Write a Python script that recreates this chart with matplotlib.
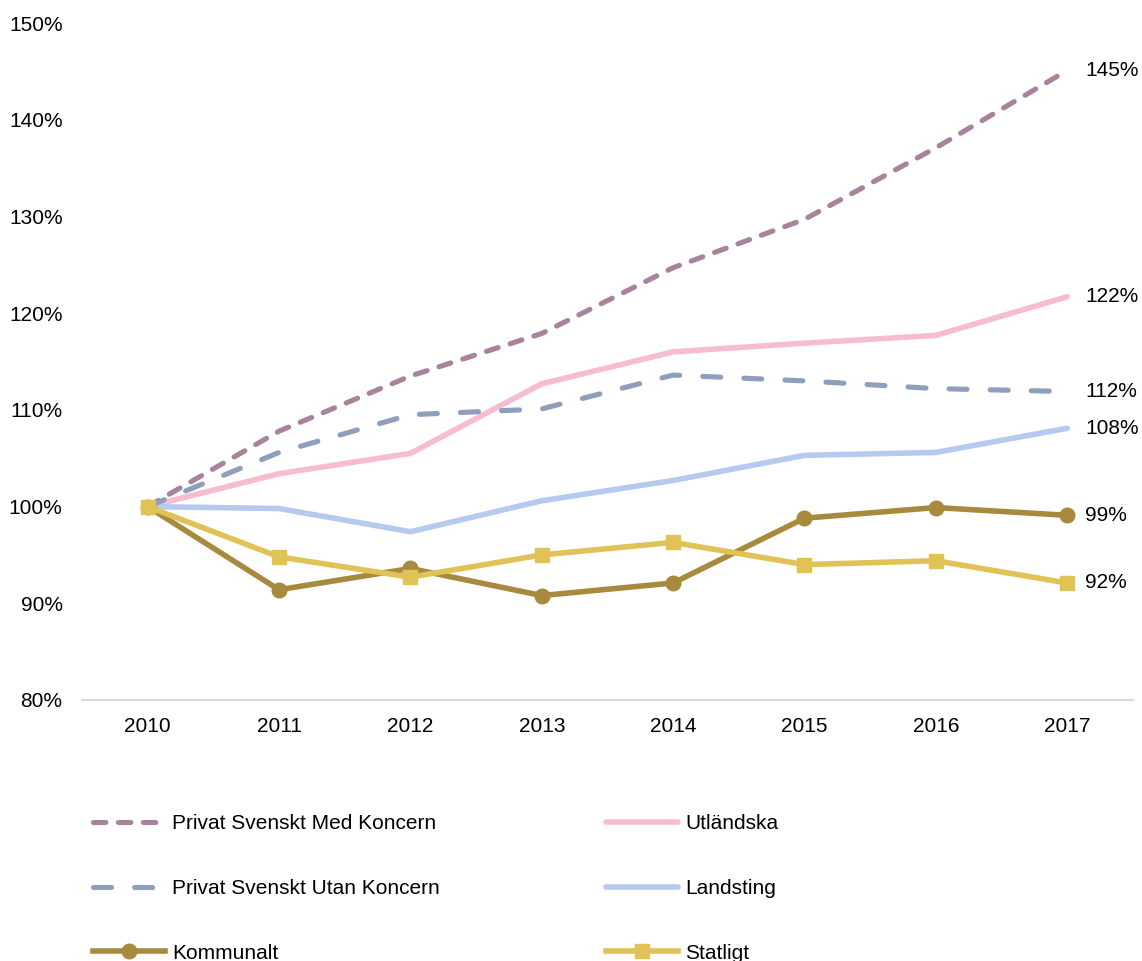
import matplotlib
matplotlib.use("Agg")
import matplotlib.pyplot as plt
from matplotlib.ticker import FuncFormatter

plt.rcParams["font.family"] = ["Liberation Sans", "DejaVu Sans"]

YEARS = ["2010", "2011", "2012", "2013", "2014", "2015", "2016", "2017"]

# index, 2010 = 100 %
MED_KONCERN  = [100, 107.8, 113.5, 117.9, 124.7, 129.7, 137.1, 145.1]
UTAN_KONCERN = [100, 105.6, 109.5, 110.1, 113.6, 113.0, 112.2, 111.9]
UTLANDSKA    = [100, 103.4, 105.5, 112.7, 116.0, 116.9, 117.7, 121.7]
LANDSTING    = [100, 99.8, 97.4, 100.6, 102.7, 105.3, 105.6, 108.1]
KOMMUNALT    = [100, 91.4, 93.6, 90.8, 92.1, 98.8, 99.9, 99.1]
STATLIGT     = [100, 94.8, 92.7, 95.0, 96.3, 94.0, 94.4, 92.1]

FS = 15

fig = plt.figure(figsize=(11.42, 9.61), dpi=100)
ax = fig.add_axes([0.0718, 0.2716, 0.9202, 0.7044])

x = range(len(YEARS))
lw = 4.0
dlw = 3.7

l_med, = ax.plot(x, MED_KONCERN, color="#A7849B", lw=dlw, linestyle=(0, (2.4, 2.45)),
                 dash_capstyle="round", label="Privat Svenskt Med Koncern", zorder=3)
l_utan, = ax.plot(x, UTAN_KONCERN, color="#8E9EBB", lw=dlw, linestyle=(0, (3.5, 4.5)),
                  dash_capstyle="round", label="Privat Svenskt Utan Koncern", zorder=3)
l_utl, = ax.plot(x, UTLANDSKA, color="#F7BCD0", lw=lw, solid_capstyle="round",
                 label="Utländska", zorder=2)
l_land, = ax.plot(x, LANDSTING, color="#B4CAEE", lw=lw, solid_capstyle="round",
                  label="Landsting", zorder=2)
l_kom, = ax.plot(x, KOMMUNALT, color="#A88A3E", lw=lw, marker="o", markersize=10.5,
                 label="Kommunalt", zorder=4)
l_stat, = ax.plot(x, STATLIGT, color="#E0C257", lw=lw, marker="s", markersize=10.5,
                  label="Statligt", zorder=5)

# end labels
for series in [MED_KONCERN, UTAN_KONCERN, UTLANDSKA, LANDSTING, KOMMUNALT, STATLIGT]:
    ax.annotate(f"{series[-1]:.0f}%", xy=(len(YEARS) - 1, series[-1]),
                xytext=(13, 0), textcoords="offset points",
                va="center", ha="left", fontsize=FS, color="#000000")

ax.set_xlim(-0.5, len(YEARS) - 0.5)
ax.set_ylim(80, 150)
ax.set_yticks(range(80, 151, 10))
ax.yaxis.set_major_formatter(FuncFormatter(lambda v, p: f"{v:.0f}%"))
ax.set_xticks(list(x))
ax.set_xticklabels(YEARS)
ax.tick_params(axis="both", length=0, labelsize=FS)
ax.tick_params(axis="y", pad=14)
ax.tick_params(axis="x", pad=12)
for s in ["top", "right", "left"]:
    ax.spines[s].set_visible(False)
ax.spines["bottom"].set_color("#D9D9D9")
ax.spines["bottom"].set_linewidth(1.5)

handles = [l_med, l_utan, l_kom, l_utl, l_land, l_stat]
fig.legend(handles=handles, labels=[h.get_label() for h in handles],
           loc="upper left", bbox_to_anchor=(93 / 1142, 1 - 814 / 961),
           ncol=2, frameon=False, fontsize=FS, handlelength=3.45,
           handletextpad=0.34, labelspacing=2.2, columnspacing=8.0,
           borderpad=0, borderaxespad=0)

fig.savefig("out.png", dpi=100)
